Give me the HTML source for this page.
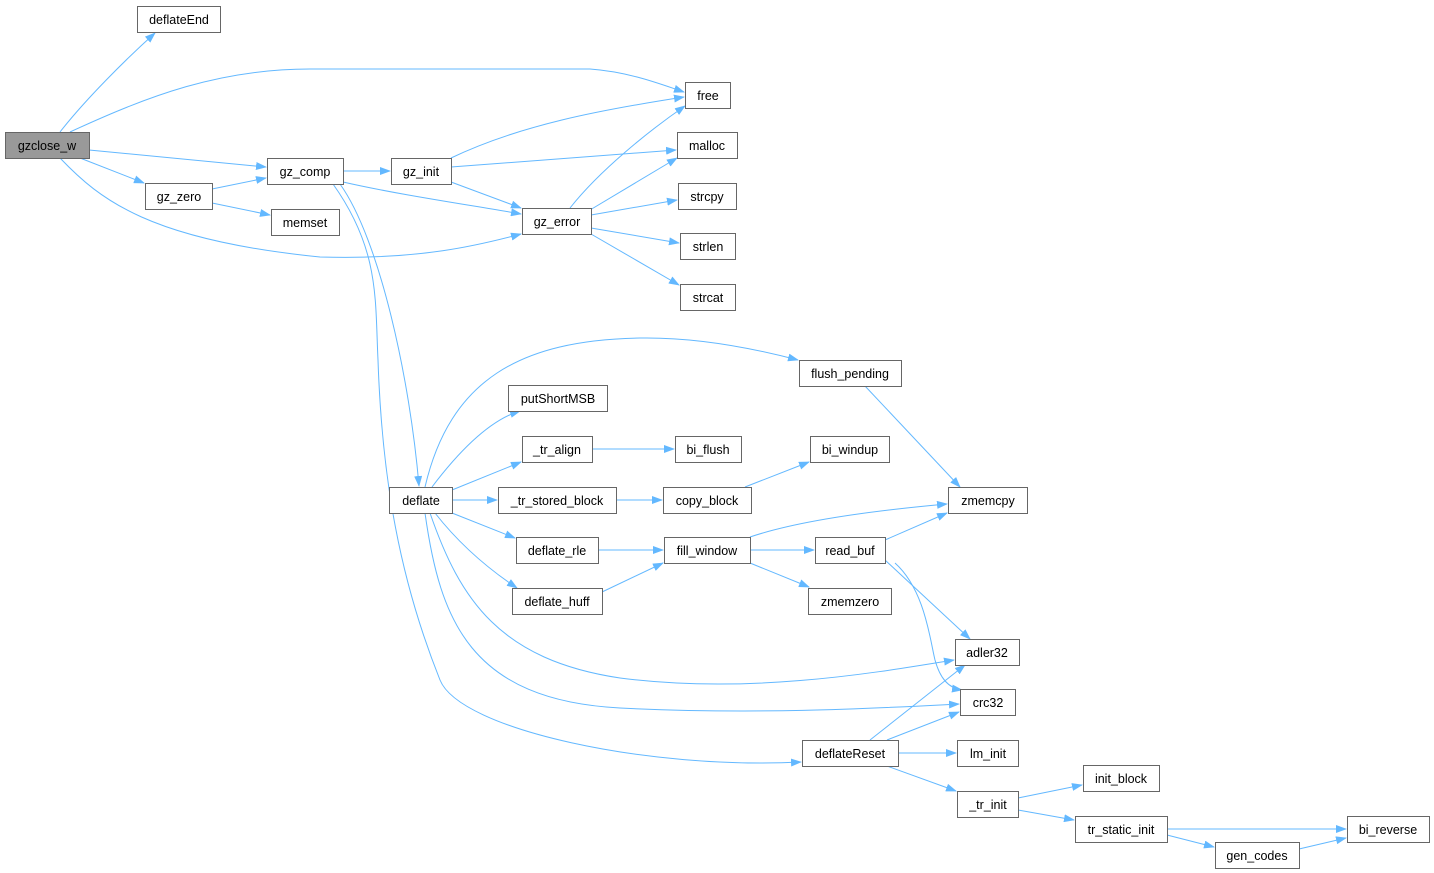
<!DOCTYPE html>
<html><head><meta charset="utf-8"><style>
html,body{margin:0;padding:0;background:#fff;}
svg{display:block;}
text{font-family:"Liberation Sans",Arial,sans-serif;font-size:12.5px;fill:#000;}
</style></head><body>
<svg width="1434" height="873" viewBox="0 0 1434 873" xmlns="http://www.w3.org/2000/svg">
<defs>
<marker id="a" markerWidth="11" markerHeight="8" refX="10" refY="4" orient="auto" markerUnits="userSpaceOnUse">
<path d="M0,0 L11,4 L0,8 Z" fill="#63b8ff"/>
</marker>
</defs>
<g fill="none" stroke="#63b8ff" stroke-width="1" marker-end="url(#a)">
<path d="M60,132 C85,100 125,60 155,33"/>
<path d="M70,132 C150,95 220,69 310,69 L590,69 C630,72 660,84 684,92"/>
<path d="M89,150 L266,167"/>
<path d="M80,158 L144,183"/>
<path d="M60,158 C100,200 150,240 320,257 C420,260 480,245 521,234"/>
<path d="M343,171 L390,171"/>
<path d="M343,182 C400,195 470,205 521,214"/>
<path d="M340,184 C380,240 410,380 419,486"/>
<path d="M333,184 C380,250 375,300 378,360 C382,480 400,580 440,680 C460,730 650,770 801,762"/>
<path d="M212,189 L266,178"/>
<path d="M212,203 L270,215"/>
<path d="M451,158 C520,125 600,110 684,97"/>
<path d="M451,167 L676,150"/>
<path d="M451,182 L521,208"/>
<path d="M570,208 C600,170 650,130 685,106"/>
<path d="M590,210 L677,158"/>
<path d="M591,215 L677,200"/>
<path d="M591,228 L679,243"/>
<path d="M591,234 L679,285"/>
<path d="M425,487 C450,380 520,340 640,338 C700,337 760,350 798,360"/>
<path d="M432,487 C460,450 490,420 520,411"/>
<path d="M452,490 L521,462"/>
<path d="M452,500 L497,500"/>
<path d="M452,513 L515,538"/>
<path d="M435,513 C460,545 490,570 517,588"/>
<path d="M430,513 C460,600 500,660 620,678 C750,695 880,672 954,660"/>
<path d="M425,513 C440,620 470,700 620,708 C760,715 880,708 959,704"/>
<path d="M865,386 L960,487"/>
<path d="M592,449 L674,449"/>
<path d="M616,500 L662,500"/>
<path d="M745,487 L809,462"/>
<path d="M598,550 L663,550"/>
<path d="M602,592 L663,563"/>
<path d="M750,537 C800,520 880,510 947,504"/>
<path d="M750,550 L814,550"/>
<path d="M750,563 L809,587"/>
<path d="M885,540 L947,513"/>
<path d="M885,560 L970,639"/>
<path d="M895,563 C925,590 930,640 935,660 C940,678 948,688 962,690"/>
<path d="M870,740 L965,665"/>
<path d="M887,740 L959,712"/>
<path d="M898,753 L956,753"/>
<path d="M887,766 L956,791"/>
<path d="M1018,798 L1082,785"/>
<path d="M1018,810 L1074,820"/>
<path d="M1167,829 L1346,829"/>
<path d="M1167,835 L1214,847"/>
<path d="M1299,849 L1346,838"/>
</g>
<g stroke="#666" stroke-width="1" fill="#fff">
<rect x="5.5" y="132.5" width="84" height="26" fill="#999"/>
<rect x="137.5" y="6.5" width="83" height="26"/>
<rect x="685.5" y="82.5" width="45" height="26"/>
<rect x="267.5" y="158.5" width="76" height="26"/>
<rect x="145.5" y="183.5" width="67" height="26"/>
<rect x="271.5" y="209.5" width="68" height="26"/>
<rect x="391.5" y="158.5" width="60" height="26"/>
<rect x="677.5" y="132.5" width="60" height="26"/>
<rect x="522.5" y="208.5" width="69" height="26"/>
<rect x="678.5" y="183.5" width="58" height="26"/>
<rect x="680.5" y="233.5" width="55" height="26"/>
<rect x="680.5" y="284.5" width="55" height="26"/>
<rect x="799.5" y="360.5" width="102" height="26"/>
<rect x="508.5" y="385.5" width="99" height="26"/>
<rect x="522.5" y="436.5" width="70" height="26"/>
<rect x="675.5" y="436.5" width="66" height="26"/>
<rect x="810.5" y="436.5" width="79" height="26"/>
<rect x="389.5" y="487.5" width="63" height="26"/>
<rect x="498.5" y="487.5" width="118" height="26"/>
<rect x="663.5" y="487.5" width="88" height="26"/>
<rect x="948.5" y="487.5" width="79" height="26"/>
<rect x="516.5" y="537.5" width="82" height="26"/>
<rect x="664.5" y="537.5" width="86" height="26"/>
<rect x="815.5" y="537.5" width="70" height="26"/>
<rect x="512.5" y="588.5" width="90" height="26"/>
<rect x="808.5" y="588.5" width="83" height="26"/>
<rect x="955.5" y="639.5" width="64" height="26"/>
<rect x="960.5" y="689.5" width="55" height="26"/>
<rect x="802.5" y="740.5" width="96" height="26"/>
<rect x="957.5" y="740.5" width="61" height="26"/>
<rect x="1083.5" y="765.5" width="76" height="26"/>
<rect x="957.5" y="791.5" width="61" height="26"/>
<rect x="1075.5" y="816.5" width="92" height="26"/>
<rect x="1347.5" y="816.5" width="82" height="26"/>
<rect x="1215.5" y="842.5" width="84" height="26"/>
</g>
<g text-anchor="middle">
<text x="47" y="150">gzclose_w</text>
<text x="179" y="24">deflateEnd</text>
<text x="708" y="100">free</text>
<text x="305" y="176">gz_comp</text>
<text x="179" y="201">gz_zero</text>
<text x="305" y="227">memset</text>
<text x="421" y="176">gz_init</text>
<text x="707" y="150">malloc</text>
<text x="557" y="226">gz_error</text>
<text x="707" y="201">strcpy</text>
<text x="708" y="251">strlen</text>
<text x="708" y="302">strcat</text>
<text x="850" y="378">flush_pending</text>
<text x="558" y="403">putShortMSB</text>
<text x="557" y="454">_tr_align</text>
<text x="708" y="454">bi_flush</text>
<text x="850" y="454">bi_windup</text>
<text x="421" y="505">deflate</text>
<text x="557" y="505">_tr_stored_block</text>
<text x="707" y="505">copy_block</text>
<text x="988" y="505">zmemcpy</text>
<text x="557" y="555">deflate_rle</text>
<text x="707" y="555">fill_window</text>
<text x="850" y="555">read_buf</text>
<text x="557" y="606">deflate_huff</text>
<text x="850" y="606">zmemzero</text>
<text x="987" y="657">adler32</text>
<text x="988" y="707">crc32</text>
<text x="850" y="758">deflateReset</text>
<text x="988" y="758">lm_init</text>
<text x="1121" y="783">init_block</text>
<text x="988" y="809">_tr_init</text>
<text x="1121" y="834">tr_static_init</text>
<text x="1388" y="834">bi_reverse</text>
<text x="1257" y="860">gen_codes</text>
</g>
</svg>
</body></html>
